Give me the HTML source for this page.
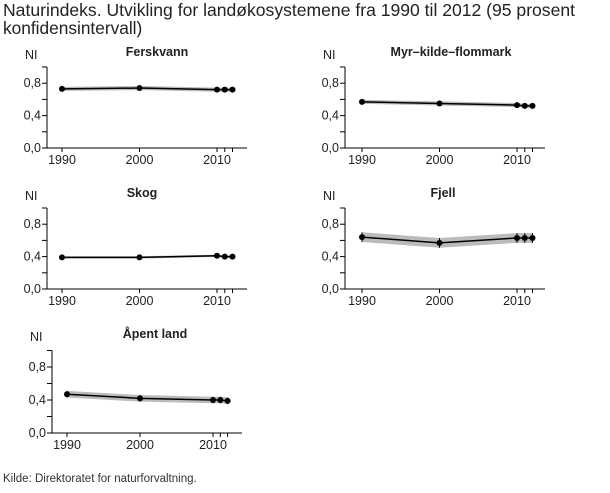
<!DOCTYPE html><html><head><meta charset="utf-8"><style>body{margin:0;background:#fff}svg{font-family:"Liberation Sans",sans-serif}</style></head><body>
<svg id="s" width="610" height="488" xmlns="http://www.w3.org/2000/svg">
<text x="3" y="16" font-size="17.3" fill="#222" textLength="572" lengthAdjust="spacingAndGlyphs">Naturindeks. Utvikling for landøkosystemene fra 1990 til 2012 (95 prosent</text>
<text x="3" y="34" font-size="17.3" fill="#222">konfidensintervall)</text>
<text x="3" y="482" font-size="11.5" fill="#333">Kilde: Direktoratet for naturforvaltning.</text>
</svg>
<script>
const s=document.getElementById('s');const NS="http://www.w3.org/2000/svg";
function el(t,a,txt){const e=document.createElementNS(NS,t);for(const k in a)e.setAttribute(k,a[k]);if(txt)e.textContent=txt;s.appendChild(e);return e;}
const P=[
{t:"Ferskvann",tc:157,ax:47,by:148,x0:62,px:7.75,ys:81,xe:247,v:[.73,.74,.72,.72,.72],b:.025},
{t:"Myr–kilde–flommark",tc:451,ax:345,by:148,x0:362,px:7.75,ys:81,xe:545,v:[.57,.55,.53,.52,.52],b:.025},
{t:"Skog",tc:142,ax:47,by:289,x0:62,px:7.75,ys:81,xe:247,v:[.39,.39,.41,.40,.40],b:.015},
{t:"Fjell",tc:443,ax:345,by:289,x0:362,px:7.75,ys:81,xe:545,v:[.64,.57,.63,.63,.63],b:.06},
{t:"Åpent land",tc:155,ax:52,by:433,x0:67,px:7.3,ys:82.5,xe:242,v:[.47,.42,.40,.40,.39],b:.04}];
const yrs=[0,10,20,21,22];
P.forEach(p=>{
 const X=i=>p.x0+yrs[i]*p.px, Y=v=>p.by-v*p.ys;
 el('text',{x:p.tc,y:p.by-92+(p.ys>81?-3:0),"font-size":12.5,"font-weight":"bold","text-anchor":"middle",fill:"#222"},p.t);
 el('text',{x:p.ax-22,y:p.by-89+(p.ys>81?-3:0),"font-size":12.5,fill:"#222"},"NI");
 el('line',{x1:p.ax,y1:p.by,x2:p.ax,y2:p.by-p.ys,stroke:"#000"});
 el('line',{x1:p.ax,y1:p.by,x2:p.xe,y2:p.by,stroke:"#000"});
 for(let k=0;k<=5;k++){const y=p.by-k*0.2*p.ys;el('line',{x1:p.ax-5,y1:y,x2:p.ax,y2:y,stroke:"#000"});
  if(k%2==0&&k<5)el('text',{x:p.ax-6,y:y+4,"font-size":12.5,"text-anchor":"end",fill:"#222"},(k*0.2).toFixed(1).replace('.',','));}
 [0,1,2,3,4].forEach(i=>{el('line',{x1:X(i),y1:p.by,x2:X(i),y2:p.by+4,stroke:"#000"});});
 [[0,"1990"],[1,"2000"],[2,"2010"]].forEach(([i,t])=>el('text',{x:X(i),y:p.by+16,"font-size":12.5,"text-anchor":"middle",fill:"#222"},t));
 let up=p.v.map((v,i)=>X(i)+","+Y(v+p.b)).join(" "),dn=p.v.map((v,i)=>X(i)+","+Y(v-p.b)).reverse().join(" ");
 el('polygon',{points:up+" "+dn,fill:"#bbb"});
 el('polyline',{points:p.v.map((v,i)=>X(i)+","+Y(v)).join(" "),fill:"none",stroke:"#000","stroke-width":1.5});
 p.v.forEach((v,i)=>{el('line',{x1:X(i),y1:Y(v+p.b),x2:X(i),y2:Y(v-p.b),stroke:"#000"});el('circle',{cx:X(i),cy:Y(v),r:3,fill:"#000"});});
});
</script></body></html>
